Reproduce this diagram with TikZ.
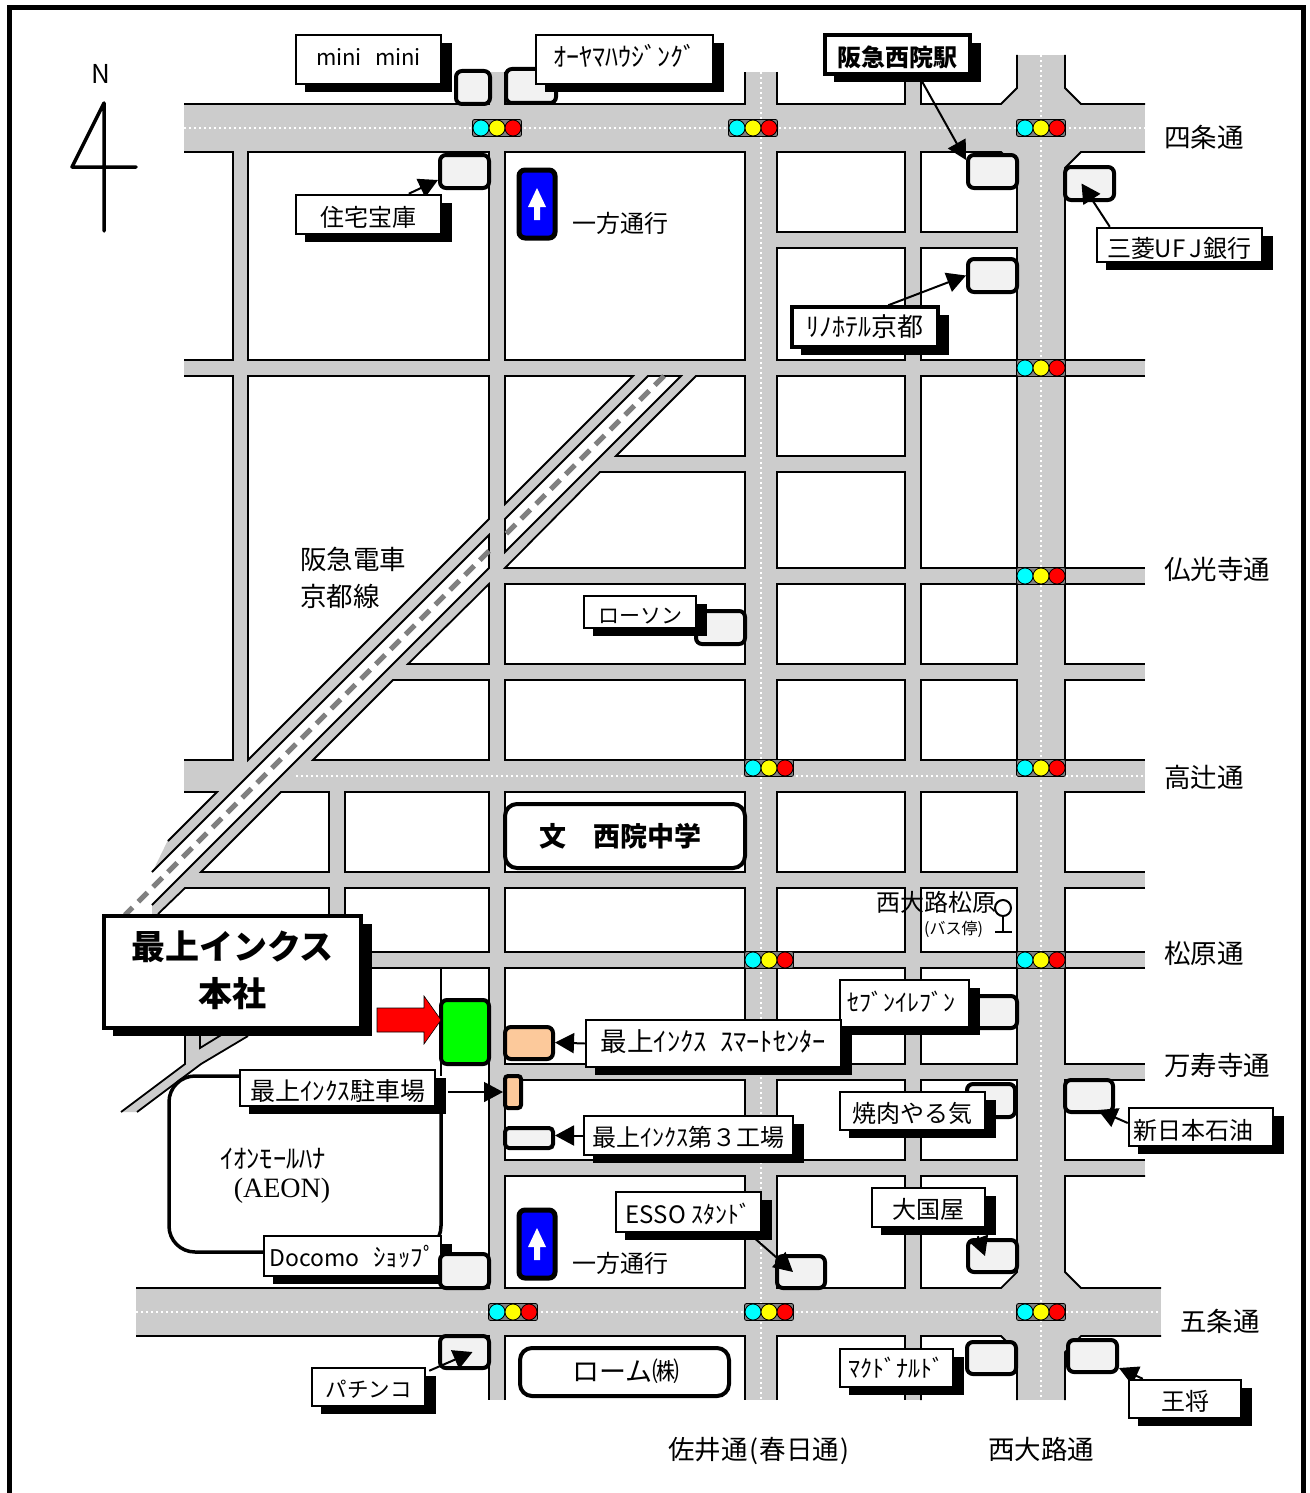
\documentclass[tikz,border=0pt]{standalone}
\usepackage{fontspec}
\setmainfont{Noto Sans CJK JP}
\newfontfamily\aeonserif{Liberation Serif}
\usetikzlibrary{arrows.meta}
\pgfdeclarelayer{roads}\pgfdeclarelayer{fac}\pgfdeclarelayer{conn}\pgfdeclarelayer{top}
\pgfsetlayers{roads,fac,conn,main,top}
\newcommand\fsz[1]{\fontsize{#1}{#1}\selectfont}
\newcommand\mvy[2]{\raisebox{#1pt}[\height][\depth]{#2}}
\definecolor{roadgray}{HTML}{CCCCCC}
\definecolor{facgray}{HTML}{F2F2F2}
\definecolor{peach}{HTML}{FCC99B}
\definecolor{sigcyan}{HTML}{00FFFF}
\definecolor{sigyellow}{HTML}{FFFF00}
\definecolor{sigred}{HTML}{FF0000}
\definecolor{hqgreen}{HTML}{00FF00}
\definecolor{signblue}{HTML}{0000FF}
\tikzset{
  edge/.style={draw=black,line width=1.8pt,line join=miter},
  blockshape/.style={edge,fill=white},
  centerdots/.style={draw=white,line width=2.4pt,dash pattern=on 2.4pt off 2.6pt},
  facnode/.style={draw=black,line width=4pt,rounded corners=6pt,fill=facgray,inner sep=0pt},
  lblnode/.style={draw=black,line width=2.5pt,fill=white,inner sep=0pt,align=center},
  conn/.style={draw=black,line width=2pt,-{Triangle[length=19pt,width=20pt]}},
  plaintext/.style={inner sep=0pt,anchor=base west},
}
\newcommand\facbox[6][]{%
  \pgfmathsetmacro\mycx{(#3+#5)/2}\pgfmathsetmacro\mycy{(#4+#6)/2}%
  \pgfmathsetmacro\mybw{#5-#3}\pgfmathsetmacro\mybh{#6-#4}%
  \node[facnode,minimum width=\mybw pt,minimum height=\mybh pt,#1] (#2) at (\mycx,\mycy) {};}
\newcommand\callout[7][]{%
  \fill[black] (#3+9,#4+8) rectangle (#5+11,#6+8);%
  \pgfmathsetmacro\mycx{(#3+#5)/2}\pgfmathsetmacro\mycy{(#4+#6)/2}%
  \pgfmathsetmacro\mybw{#5-#3}\pgfmathsetmacro\mybh{#6-#4}%
  \node[lblnode,minimum width=\mybw pt,minimum height=\mybh pt,#1] (#2) at (\mycx,\mycy) {#7};}
\newcommand\signal[2]{%
  \draw[black,fill=gray,line width=.8pt,rounded corners=2pt] (#1-24.5,#2-8.5) rectangle (#1+24.5,#2+8.5);
  \draw[black,fill=sigcyan,line width=.8pt] (#1-16,#2) circle (8);
  \draw[black,fill=sigyellow,line width=.8pt] (#1,#2) circle (8);
  \draw[black,fill=sigred,line width=.8pt] (#1+16,#2) circle (8);}
\begin{document}
\begin{tikzpicture}[x=1pt,y=-1pt]
\clip (0,0) rectangle (1309,1493);
\begin{pgfonlayer}{roads}
\fill[white] (0,0) rectangle (1309,1493);
% gray road surfaces
\foreach \a/\b/\c/\d in {184/104/1145/152, 184/360/1145/376, 505/568/1145/584, 393/664/1145/680,
  184/760/1145/792, 185/872/1145/888, 184/952/1145/968, 505/1064/1145/1080, 505/1160/1145/1176,
  136/1288/1161/1336, 600/456/905/472, 777/232/1017/248,
  233/152/249/760, 329/792/345/952, 489/72/505/1400, 745/72/777/1400, 905/72/921/1400, 1017/55/1065/1400}
  {\fill[roadgray] (\a,\b) rectangle (\c,\d);}
\fill[roadgray] (1001,104) -- (1017,88) -- (1065,88) -- (1081,104) -- (1081,152) -- (1065,168) -- (1017,168) -- (1001,152) -- cycle;
\fill[roadgray] (1001,1288) -- (1017,1272) -- (1065,1272) -- (1081,1288) -- (1081,1336) -- (1065,1352) -- (1017,1352) -- (1001,1336) -- cycle;
\fill[roadgray] (633,376) -- (696,376) -- (152,920) -- (152,873) -- (168,840) -- cycle;
\fill[roadgray] (121,1112) -- (185,1064) -- (185,1020) -- (250,1020) -- (248,1036) -- (201,1064) -- (137,1112) -- cycle;
% closed blocks
\foreach \x/\X in {505/745,777/905}
 \foreach \y/\Y in {584/664,680/760,792/872,888/952,968/1064,1080/1160,1176/1288}
  {\draw[blockshape] (\x,\y) rectangle (\X,\Y);}
\foreach \y/\Y in {584/664,680/760,792/872,888/952,968/1064,1080/1160,248/360,376/568}
  {\draw[blockshape] (921,\y) rectangle (1017,\Y);}
\foreach \y/\Y in {152/232,248/360,376/456,472/568}
  {\draw[blockshape] (777,\y) rectangle (905,\Y);}
\draw[blockshape] (505,152) rectangle (745,360);
\draw[blockshape] (248,152) rectangle (489,360);
\draw[blockshape] (345,792) rectangle (489,872);
\draw[blockshape] (345,888) rectangle (489,952);
\draw[blockshape] (921,152) -- (1001,152) -- (1017,168) -- (1017,232) -- (921,232) -- cycle;
\draw[blockshape] (921,1176) -- (1017,1176) -- (1017,1272) -- (1001,1288) -- (921,1288) -- cycle;
% blocks cut by the railway
\draw[blockshape] (248,376) -- (489,376) -- (489,519) -- (248,760) -- cycle;
\draw[blockshape] (489,584) -- (489,664) -- (408,664) -- cycle;
\draw[blockshape] (393,680) -- (489,680) -- (489,760) -- (313,760) -- cycle;
\draw[blockshape] (505,376) -- (633,376) -- (505,504) -- cycle;
\draw[blockshape] (696,376) -- (745,376) -- (745,456) -- (616,456) -- cycle;
\draw[blockshape] (600,472) -- (745,472) -- (745,568) -- (505,568) -- cycle;
\draw[blockshape] (281,792) -- (329,792) -- (329,872) -- (201,872) -- cycle;
% railway strip
\draw[blockshape] (648,376) -- (681,376) -- (505,552) -- (505,519) -- cycle;
\fill[white] (152,872) -- (489,535) -- (489,568) -- (152,905) -- cycle;
\draw[edge] (152,872) -- (489,535) -- (489,568) -- (152,905);
\draw[draw=gray,line width=5pt,dash pattern=on 13pt off 8pt] (664,376) -- (505,535);
\draw[draw=gray,line width=5pt,dash pattern=on 13pt off 8pt] (489,551) -- (125,915);
% open edges
\draw[edge] (184,104) -- (489,104) -- (489,72);
\draw[edge] (505,72) -- (505,104) -- (745,104) -- (745,72);
\draw[edge] (777,72) -- (777,104) -- (905,104) -- (905,72);
\draw[edge] (921,72) -- (921,104) -- (1001,104) -- (1017,88) -- (1017,55);
\draw[edge] (1065,55) -- (1065,88) -- (1081,104) -- (1145,104);
\draw[edge] (184,152) -- (233,152) -- (233,360) -- (184,360);
\draw[edge] (184,376) -- (233,376) -- (233,760) -- (184,760);
\draw[edge] (184,792) -- (217,792) -- (168,841);
\draw[edge] (158,914) -- (185,888) -- (329,888) -- (329,925);
\draw[edge] (1145,152) -- (1081,152) -- (1065,168) -- (1065,360) -- (1145,360);
\foreach \y/\Y in {376/568,584/664,680/760,792/872,888/952,968/1064,1080/1160}
  {\draw[edge] (1145,\y) -- (1065,\y) -- (1065,\Y) -- (1145,\Y);}
\draw[edge] (1145,1176) -- (1065,1176) -- (1065,1272) -- (1081,1288) -- (1161,1288);
\draw[edge] (370,952) -- (489,952);
\draw[edge] (370,968) -- (489,968) -- (489,1288) -- (136,1288);
\draw[edge] (441,968) -- (441,1076);
\draw[edge] (121,1112) -- (185,1064) -- (185,1025);
\draw[edge] (200,1025) -- (200,1048) -- (231,1029);
\draw[edge] (248,1036) -- (201,1064) -- (137,1112);
\draw[edge] (136,1336) -- (489,1336) -- (489,1400);
\draw[edge] (505,1400) -- (505,1336) -- (745,1336) -- (745,1400);
\draw[edge] (777,1400) -- (777,1336) -- (905,1336) -- (905,1400);
\draw[edge] (921,1400) -- (921,1336) -- (1001,1336) -- (1017,1352) -- (1017,1400);
\draw[edge] (1065,1400) -- (1065,1352) -- (1081,1336) -- (1161,1336);
% centre lines
\draw[centerdots] (184,128) -- (1145,128);
\draw[centerdots] (296,776) -- (1145,776);
\draw[centerdots] (136,1312) -- (1161,1312);
\draw[centerdots] (761,72) -- (761,1400);
\draw[centerdots] (1041,55) -- (1041,1400);
% signals
\signal{497}{128}\signal{753}{128}\signal{1041}{128}
\signal{1041}{368}\signal{1041}{576}
\signal{769}{768}\signal{1041}{768}
\signal{769}{960}\signal{1041}{960}
\signal{513}{1312}\signal{769}{1312}\signal{1041}{1312}
\end{pgfonlayer}
\begin{pgfonlayer}{fac}
\draw[black,line width=3.5pt,rounded corners=26pt,fill=white] (169,1076) rectangle (441,1252);
\facbox{fa}{456}{71}{490}{104}
\facbox{fb}{506}{69}{556}{103}
\facbox{fc}{440}{155}{489}{188}
\facbox{fd}{968}{155}{1017}{188}
\facbox{fe}{1065}{167}{1114}{200}
\facbox{ff}{968}{259}{1017}{292}
\facbox{fg}{696}{611}{745}{644}
\facbox{fh}{968}{996}{1017}{1028}
\facbox{fi}{967}{1084}{1015}{1117}
\facbox{fj}{1065}{1080}{1113}{1112}
\facbox{fk}{968}{1240}{1017}{1272}
\facbox{fl}{777}{1256}{825}{1288}
\facbox{fn}{440}{1336}{489}{1368}
\facbox{fo}{967}{1342}{1016}{1374}
\facbox{fp}{1068}{1340}{1117}{1372}
\facbox[fill=hqgreen]{hq}{441}{1000}{489}{1064}
\facbox[fill=peach]{fsmart}{505}{1027}{553}{1059}
\facbox[fill=peach,rounded corners=3pt]{fpark}{505}{1076}{521}{1108}
\facbox[rounded corners=4pt]{ffact}{505}{1128}{553}{1148}
\facbox[fill=white,rounded corners=12pt]{school}{505}{804}{745}{868}
\node[font=\fsz{27}\bfseries,inner sep=0pt] (schooltext) at (620,836) {文　西院中学};
\facbox[fill=white,rounded corners=12pt]{rohm}{520}{1348}{729}{1396}
\node[font=\fsz{27},inner sep=0pt] (rohmtext) at (626,1371) {ローム㈱};
% one-way signs
\facbox[fill=signblue,line width=5pt]{oneway}{519}{170}{555}{238}
\fill[white] (528,207) -- (537,188) -- (546,207) -- (540,207) -- (540,220) -- (534,220) -- (534,207) -- cycle;
\facbox[fill=signblue,line width=5pt]{onewayb}{519}{1210}{555}{1278}
\fill[white] (528,1247) -- (537,1228) -- (546,1247) -- (540,1247) -- (540,1260) -- (534,1260) -- (534,1247) -- cycle;
\end{pgfonlayer}
% callouts
\callout{lmini}{296}{35}{441}{84}{\mvy{2.5}{\fsz{22}mini\hspace{.6em}mini}}
\callout{loyama}{536}{35}{713}{84}{\mvy{3.5}{\fsz{26}ｵｰﾔﾏﾊｳｼﾞﾝｸﾞ}}
\callout[line width=4pt]{lhankyu}{825}{35}{970}{74}{\mvy{-2.5}{\fsz{24}\bfseries 阪急西院駅}}
\callout{ljutaku}{296}{195}{441}{234}{\mvy{-2.5}{\fsz{24}住宅宝庫}}
\callout{lufj}{1097}{228}{1262}{262}{\mvy{-3}{\fsz{24}三菱\makebox[16pt]{U}\makebox[16pt]{F}\makebox[16pt]{J}銀行}}
\callout[line width=3.5pt]{lrino}{792}{307}{938}{347}{\fsz{26}ﾘﾉﾎﾃﾙ京都}
\callout{llawson}{584}{596}{696}{628}{\mvy{-4.5}{\fsz{21}ローソン}}
\callout[line width=4pt]{lhq}{104}{916}{361}{1028}{\fsz{34}\bfseries\mvy{2}{最上インクス}\\[13pt]\fsz{34}\bfseries\mvy{1}{本社}}
\callout{lseven}{840}{980}{969}{1027}{\mvy{2}{\fsz{24}\kern-6pt ｾﾌﾞﾝｲﾚﾌﾞﾝ}}
\callout{lsmart}{586}{1020}{841}{1067}{\mvy{2}{\fsz{26.5}最上ｲﾝｸｽ\hspace{.5em}ｽﾏｰﾄｾﾝﾀｰ}}
\callout{lpark}{240}{1070}{435}{1106}{\mvy{-3}{\fsz{25}最上ｲﾝｸｽ駐車場}}
\callout{lyaki}{840}{1092}{985}{1130}{\mvy{-2}{\fsz{24}焼肉やる気}}
\callout{lshin}{1129}{1108}{1273}{1146}{\mvy{-3}{\fsz{24}\kern-16pt 新日本石油}}
\callout{lfact}{584}{1116}{793}{1155}{\mvy{-2}{\fsz{24}最上ｲﾝｸｽ第３工場}}
\callout{lesso}{616}{1192}{761}{1232}{\mvy{-2}{\fsz{24}ESSO ｽﾀﾝﾄﾞ}}
\callout{ldai}{872}{1188}{985}{1227}{\mvy{-2}{\fsz{24}大国屋}}
\callout{ldocomo}{264}{1236}{441}{1276}{\mvy{-1}{\fsz{23}Docomo\hspace{.6em}\fsz{25}ｼｮｯﾌﾟ}}
\callout{lpachi}{312}{1368}{425}{1406}{\mvy{-2}{\fsz{21.5}パチンコ}}
\callout{lmcd}{840}{1349}{953}{1387}{\fsz{24}ﾏｸﾄﾞﾅﾙﾄﾞ}
\callout{lohsho}{1129}{1380}{1241}{1418}{\mvy{-2}{\fsz{24}王将}}
\begin{pgfonlayer}{top}
\facbox{fm}{440}{1254}{489}{1288}
\end{pgfonlayer}
% connectors
\begin{pgfonlayer}{conn}
\draw[conn] ([xshift=114pt]ljutaku.north west) -- ([yshift=-8.5pt]fc.west);
\draw[conn] ([xshift=96pt]lhankyu.south west) -- ([yshift=11.5pt]fd.west);
\draw[conn] ([xshift=14pt]lufj.north west) -- ([xshift=-8pt]fe.center);
\draw[conn] ([xshift=98pt]lrino.north west) -- (ff.west);
\draw[conn] (lsmart.west) -- ([yshift=.5pt]fsmart.east);
\draw[conn] (lfact.west) -- ([yshift=2.5pt]ffact.east);
\draw[conn,line width=1.4pt] ([xshift=12pt,yshift=-4pt]lpark.east) -- (fpark.west);
\draw[conn] ([yshift=4pt]lshin.west) -- ([xshift=9pt,yshift=4pt]fj.south);
\draw[conn] ([xshift=141pt,yshift=-6pt]lesso.south west) -- ([xshift=-8pt]fl.center);
\draw[conn] ([xshift=107pt,yshift=-8pt]ldai.south west) -- ([xshift=-7.5pt]fk.center);
\draw[conn] ([xshift=15pt]lohsho.north west) -- ([yshift=6pt]fp.south east);
\draw[conn] ([xshift=3pt,yshift=-4pt]lpachi.north east) -- ([xshift=8pt]fn.center);
\end{pgfonlayer}
% headquarters arrow
\draw[black,fill=sigred,line width=.6pt] (377,1008) -- (424,1008) -- (424,996) -- (441,1020) -- (424,1044) -- (424,1032) -- (377,1032) -- cycle;
% frame
\draw[black,line width=5pt] (9,1493) -- (9,8) -- (1303,8) -- (1303,1493);
% north mark
\node[font=\fsz{26},inner sep=0pt] (north) at (101,74) {N};
\draw[black,line width=3.5pt,line join=round,line cap=round] (104,231) -- (104,103) -- (72,167) -- (136,167);
% bus stop
\node[draw=black,line width=2pt,circle,minimum size=16pt,inner sep=0pt] (busstop) at (1003,908) {};
\coordinate (busfoot) at (1003,932);
\draw[black,line width=2pt] (busstop) -- (busfoot);
\draw[black,line width=2pt] (995,932) -- (1012,932);
% texts
\node[plaintext,font=\fsz{24}] (tbus) at (876,911) {西大路松原};
\node[plaintext,font=\fsz{16}] (tbusb) at (924,934) {(バス停)};
\foreach \n/\x/\y/\s in {s1/1164/147/四条通,s2/1164/579/仏光寺通,s3/1164/787/高辻通,s4/1164/963/松原通,s5/1164/1075/万寿寺通,s6/1180/1331/五条通,s7/668/1459/佐井通\hspace{1.5pt}(\hspace{1.5pt}春日通\hspace{1.5pt}),s8/988/1459/西大路通,r1/300/569/阪急電車,r2/300/606/京都線}
  {\node[plaintext,font=\fsz{26.5}] (\n) at (\x,\y) {\s};}
\node[plaintext,font=\fsz{24}] (ow1) at (572,232) {一方通行};
\node[plaintext,font=\fsz{24}] (ow2) at (572,1272) {一方通行};
\node[font=\fsz{26.5},inner sep=0pt] (aeon1) at (273,1159) {ｲｵﾝﾓｰﾙﾊﾅ};
\node[font=\aeonserif\fsz{28},inner sep=0pt] (aeon2) at (282,1191) {(AEON)};
\end{tikzpicture}
\end{document}
